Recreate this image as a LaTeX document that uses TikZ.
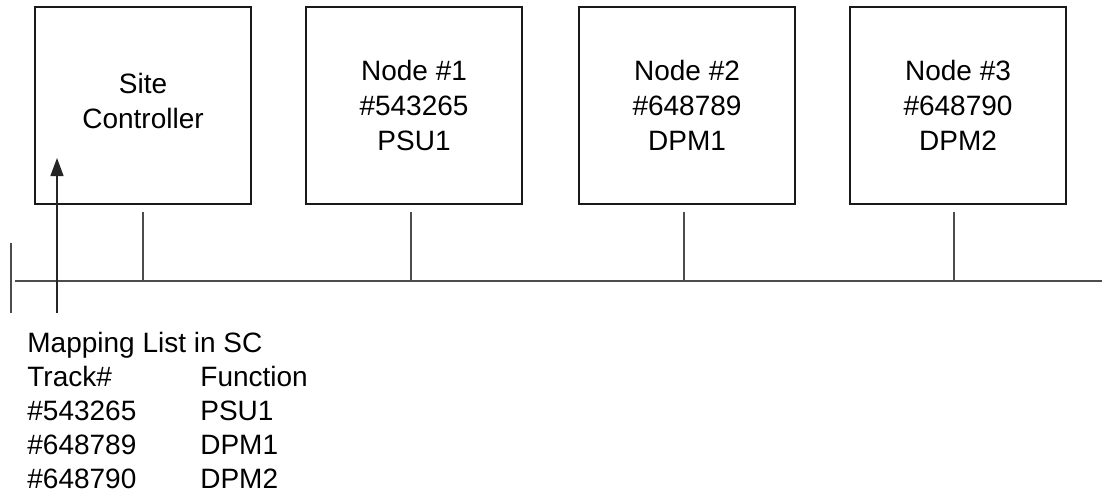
\documentclass[tikz,border=0pt]{standalone}
\usepackage{fontspec}
\setmainfont{Liberation Sans}
\usetikzlibrary{arrows.meta}

\begin{document}
\begin{tikzpicture}[x=0.5pt,y=-0.5pt,
	unit/.style={draw=black!90,line width=1.1pt,rectangle,minimum width=108pt,minimum height=98.5pt,inner sep=0pt,align=center,font=\fontsize{14}{17.5}\selectfont},
	wire/.style={draw=black!70,line width=0.6pt},
	maplist/.style={inner sep=0pt,anchor=base west,font=\fontsize{14}{17}\selectfont}]
	\useasboundingbox (0,0) rectangle (1102,492);
	% units on the bus
	\node[unit,text depth=5pt] (sc)at(143,105.5) {Site\\Controller};
	\node[unit] (n1)at(414,105.5) {Node \#1\\\#543265\\PSU1};
	\node[unit] (n2)at(687,105.5) {Node \#2\\\#648789\\DPM1};
	\node[unit] (n3)at(958,105.5) {Node \#3\\\#648790\\DPM2};
	% bus
	\coordinate (busL)at(15,281);
	\coordinate (busR)at(1102,281);
	\coordinate (barT)at(11,243);
	\coordinate (barB)at(11,313);
	\draw[wire] (busL) -- (busR);
	\draw[wire] (barT) -- (barB);
	\draw[wire] ([yshift=-3.5pt]sc.south) -- (sc.south |- busL);
	\draw[wire] ([yshift=-3.5pt,xshift=-1.5pt]n1.south) -- ([xshift=-1.5pt]n1.south |- busL);
	\draw[wire] ([yshift=-3.5pt,xshift=-1.5pt]n2.south) -- ([xshift=-1.5pt]n2.south |- busL);
	\draw[wire] ([yshift=-3.5pt,xshift=-2pt]n3.south) -- ([xshift=-2pt]n3.south |- busL);
	% mapping list
	\node[maplist] (map)at(27,352) {\begin{tabular}[t]{@{}p{86.5pt}@{}l@{}}
		\multicolumn{2}{@{}l@{}}{Mapping List in SC}\\
		Track\# & Function\\
		\#543265 & PSU1\\
		\#648789 & DPM1\\
		\#648790 & DPM2
	\end{tabular}};
	\coordinate (mapTop)at(57,313);
	\coordinate (scIn)at(57,158);
	\draw[wire,draw=black!85,-{Triangle[length=9pt,width=6.5pt]}] (mapTop) -- (scIn);
\end{tikzpicture}
\end{document}
